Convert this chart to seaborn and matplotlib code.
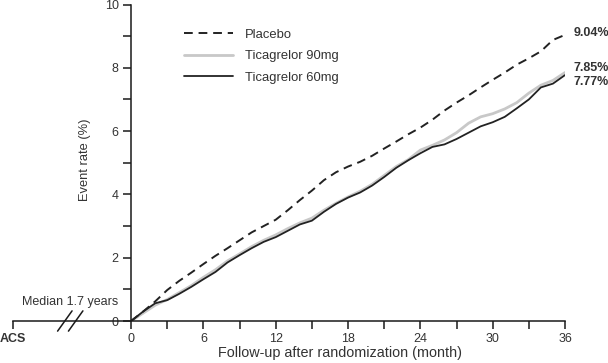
import numpy as np
import pandas as pd
import matplotlib
matplotlib.use("Agg")
import matplotlib.pyplot as plt
import seaborn as sns

# Cumulative event rate (%), by month of follow-up
MONTHS = list(range(37))
PLACEBO = [0, 0.30, 0.62, 0.98, 1.27, 1.53, 1.80, 2.06, 2.30, 2.55, 2.80, 3.00,
           3.20, 3.50, 3.82, 4.12, 4.45, 4.70, 4.88, 5.03, 5.22, 5.45, 5.67, 5.90,
           6.11, 6.36, 6.65, 6.90, 7.13, 7.38, 7.62, 7.85, 8.10, 8.30, 8.52, 8.88, 9.04]
TICA_90 = [0, 0.25, 0.50, 0.68, 0.90, 1.12, 1.38, 1.62, 1.90, 2.12, 2.35, 2.55,
           2.72, 2.92, 3.10, 3.25, 3.50, 3.72, 3.92, 4.10, 4.32, 4.60, 4.88, 5.10,
           5.40, 5.55, 5.72, 5.95, 6.25, 6.45, 6.55, 6.70, 6.90, 7.20, 7.45, 7.60, 7.85]
TICA_60 = [0, 0.30, 0.56, 0.66, 0.86, 1.08, 1.32, 1.55, 1.85, 2.08, 2.30, 2.50,
           2.65, 2.85, 3.05, 3.17, 3.45, 3.70, 3.90, 4.06, 4.28, 4.55, 4.84, 5.08,
           5.30, 5.50, 5.58, 5.75, 5.95, 6.15, 6.28, 6.45, 6.72, 7.00, 7.38, 7.50, 7.77]

SERIES = ["Placebo", "Ticagrelor 90mg", "Ticagrelor 60mg"]
END_LABELS = ["9.04%", "7.85%", "7.77%"]

df = pd.concat([
    pd.DataFrame({"month": MONTHS, "rate": PLACEBO, "arm": SERIES[0]}),
    pd.DataFrame({"month": MONTHS, "rate": TICA_90, "arm": SERIES[1]}),
    pd.DataFrame({"month": MONTHS, "rate": TICA_60, "arm": SERIES[2]}),
])

sns.set_style("white")
plt.rcParams["font.family"] = ["Liberation Sans", "DejaVu Sans"]

fig = plt.figure(figsize=(6.08, 3.63), dpi=100)
ax = fig.add_axes([13 / 608, 42 / 363, 552 / 608, 316.5 / 363])

palette = {SERIES[0]: "#222222", SERIES[1]: "#c8c8c8", SERIES[2]: "#222222"}
dashes = {SERIES[0]: (4.5, 3), SERIES[1]: "", SERIES[2]: ""}
sizes = {SERIES[0]: 1.4, SERIES[1]: 2.0, SERIES[2]: 1.3}

# draw gray first so the black 60mg line sits on top
for arm in [SERIES[1], SERIES[0], SERIES[2]]:
    sub = df[df["arm"] == arm]
    sns.lineplot(data=sub, x="month", y="rate", ax=ax, color=palette[arm],
                 linewidth=sizes[arm], dashes=False, label=arm, legend=False,
                 linestyle=(0, dashes[arm]) if dashes[arm] else "-")

# axes: x axis runs back to the ACS time point
x_acs = -9.8
ax.set_xlim(x_acs, 36)
ax.set_ylim(0, 10)
ax.spines["left"].set_position(("data", 0))
ax.spines["right"].set_visible(False)
ax.spines["top"].set_visible(False)
for s in ["left", "bottom"]:
    ax.spines[s].set_linewidth(1.1)
    ax.spines[s].set_color("#1a1a1a")

ax.set_xticks([x_acs] + list(range(0, 37, 6)))
ax.set_xticklabels(["ACS"] + [str(m) for m in range(0, 37, 6)])
ax.set_xticks(list(range(3, 36, 6)), minor=True)
ax.get_xticklabels()[0].set_fontweight("bold")
ax.set_yticks(range(0, 11, 2))
ax.set_yticks(range(1, 10, 2), minor=True)
ax.tick_params(axis="both", which="both", direction="out", length=6, width=1.1,
               color="#1a1a1a", labelsize=9, labelcolor="#333333", pad=3,
               bottom=True, left=True)

ax.set_xlabel("")
ax.set_ylabel("")
fig.text(340 / 608, 1 - 353 / 363, "Follow-up after randomization (month)",
         ha="center", va="center", fontsize=10.4, color="#333333")
fig.text(85 / 608, 1 - 160 / 363, "Event rate (%)", rotation=90,
         ha="center", va="center", fontsize=9.3, color="#333333")

# axis break marks
for xb in [-5.5, -4.6]:
    ax.plot([xb - 0.6, xb + 0.6], [-0.32, 0.32], color="#1a1a1a", lw=1.1,
            clip_on=False)
ax.text(-1.1, 0.6, "Median 1.7 years", ha="right", va="center", fontsize=9,
        color="#333333")

# end-of-curve values
for y_lab, txt in zip([9.1, 8.0, 7.55], END_LABELS):
    ax.text(36.7, y_lab, txt, ha="left", va="center", fontsize=9,
            fontweight="bold", color="#333333", clip_on=False)

handles, labels = ax.get_legend_handles_labels()
order = [labels.index(s) for s in SERIES]
ax.legend([handles[i] for i in order], SERIES, frameon=False, fontsize=9.4,
          handlelength=3.8, handletextpad=0.9, labelspacing=0.72,
          loc="upper left", bbox_to_anchor=(172 / 608, 1 - 17 / 363),
          bbox_transform=fig.transFigure, labelcolor="#333333")

fig.savefig("out.png", dpi=100)
